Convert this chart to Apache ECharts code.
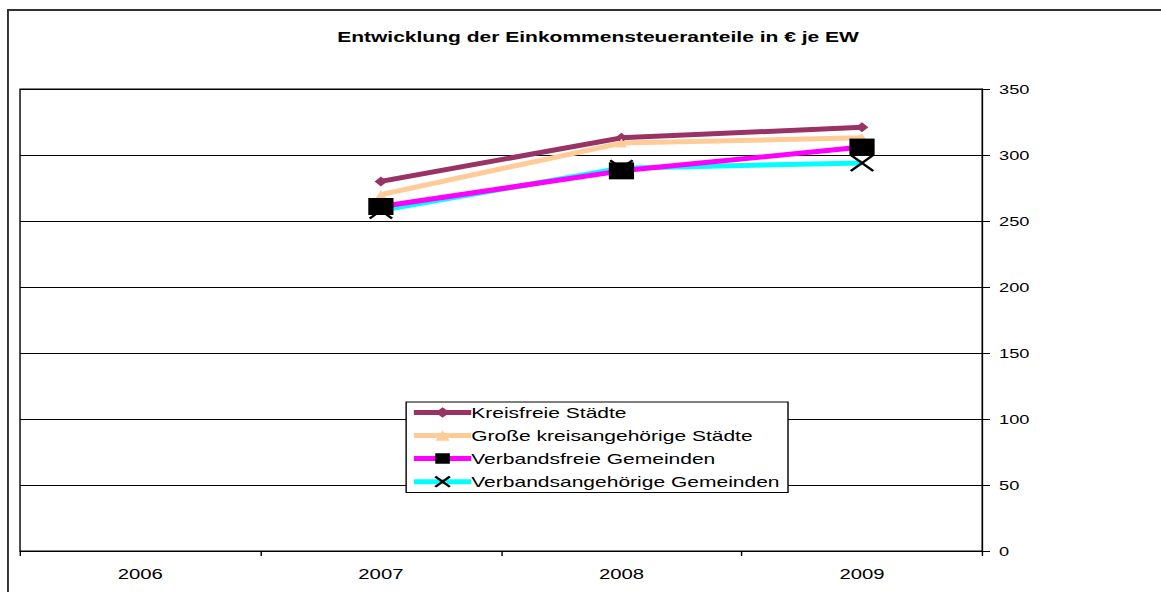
<!DOCTYPE html>
<html>
<head>
<meta charset="utf-8">
<script src="https://cdn.jsdelivr.net/npm/echarts@6/dist/echarts.min.js"></script>
<style>
  html, body { margin: 0; padding: 0; background: #fff; overflow: hidden; }
  /* the original chart is horizontally stretched, so draw narrow and stretch */
  #myChart { width: 829px; height: 592px; transform: scaleX(1.4005); transform-origin: 0 0; }
</style>
</head>
<body>
<div id="myChart"></div>
<script>
  // Einkommensteueranteile in € je Einwohner
  var years = ['2006', '2007', '2008', '2009']
  var kreisfreie = [null, 280, 313, 321]
  var grosseKreisang = [null, 270, 309, 313]
  var verbandsfreie = [null, 261, 288, 306]
  var verbandsang = [null, 258, 290, 294]
  var yTicks = [0, 50, 100, 150, 200, 250, 300, 350]

  var font = 'Liberation Sans, Arial, sans-serif'
  var crossPath = 'path://M0 0L10 10M10 0L0 10'

  var myChart = echarts.init(document.getElementById('myChart'), null, { renderer: 'svg' })
  var option = {
    animation: false,
    backgroundColor: '#fff',
    title: {
      text: 'Entwicklung der Einkommensteueranteile in € je EW',
      left: 422,
      textAlign: 'center',
      top: 24,
      textStyle: { fontFamily: font, fontSize: 15, fontWeight: 'bold', color: '#000' }
    },
    graphic: [
      {
        type: 'line',
        shape: { x1: 5.7, y1: 10, x2: 900, y2: 10 },
        style: { stroke: '#333', lineWidth: 2 },
        silent: true
      },
      {
        type: 'line',
        shape: { x1: 5.7, y1: 9, x2: 5.7, y2: 600 },
        style: { stroke: '#333', lineWidth: 1.4 },
        silent: true
      }
    ],
    legend: {
      orient: 'vertical',
      left: 290,
      top: 402,
      backgroundColor: '#fff',
      borderColor: '#000',
      borderWidth: 1,
      borderRadius: 0,
      padding: [3, 6, 3, 3],
      itemGap: 8,
      itemWidth: 41,
      itemHeight: 13,
      lineStyle: { width: 5 },
      textStyle: { fontFamily: font, fontSize: 15, color: '#000', padding: [0, 0, 0, -5] },
      data: ['Kreisfreie Städte', 'Große kreisangehörige Städte', 'Verbandsfreie Gemeinden', 'Verbandsangehörige Gemeinden']
    },
    grid: {
      left: 14.3,
      right: 127.6,
      top: 89,
      bottom: 41,
      show: true,
      borderColor: '#000',
      borderWidth: 1
    },
    xAxis: {
      type: 'category',
      data: years,
      boundaryGap: true,
      axisLine: { lineStyle: { color: '#000', width: 1 } },
      axisTick: { show: true, length: 5, lineStyle: { color: '#000' } },
      axisLabel: { fontFamily: font, fontSize: 14.5, color: '#000', margin: 16 }
    },
    yAxis: {
      type: 'value',
      position: 'right',
      min: yTicks[0],
      max: yTicks[yTicks.length - 1],
      interval: 50,
      axisLine: { show: true, lineStyle: { color: '#000', width: 1 } },
      axisTick: { show: true, length: 5.5, lineStyle: { color: '#000' } },
      axisLabel: { fontFamily: font, fontSize: 13, color: '#000', margin: 12 },
      splitLine: { show: true, lineStyle: { color: '#000', width: 1 } }
    },
    series: [
      {
        name: 'Kreisfreie Städte',
        type: 'line',
        data: kreisfreie,
        symbol: 'diamond',
        symbolSize: [9, 10],
        lineStyle: { color: '#993366', width: 5 },
        itemStyle: { color: '#993366' }
      },
      {
        name: 'Große kreisangehörige Städte',
        type: 'line',
        data: grosseKreisang,
        symbol: 'triangle',
        symbolSize: [8, 9],
        lineStyle: { color: '#FFCC99', width: 5 },
        itemStyle: { color: '#FFCC99' }
      },
      {
        name: 'Verbandsangehörige Gemeinden',
        type: 'line',
        data: verbandsang,
        symbol: crossPath,
        symbolSize: [16, 16],
        lineStyle: { color: '#00FFFF', width: 5 },
        itemStyle: { color: 'none', borderColor: '#000', borderWidth: 2 }
      },
      {
        name: 'Verbandsfreie Gemeinden',
        type: 'line',
        data: verbandsfreie,
        symbol: 'rect',
        symbolSize: [18, 17],
        lineStyle: { color: '#FF00FF', width: 5 },
        itemStyle: { color: '#000' }
      }
    ]
  }
  myChart.setOption(option)
</script>
</body>
</html>
